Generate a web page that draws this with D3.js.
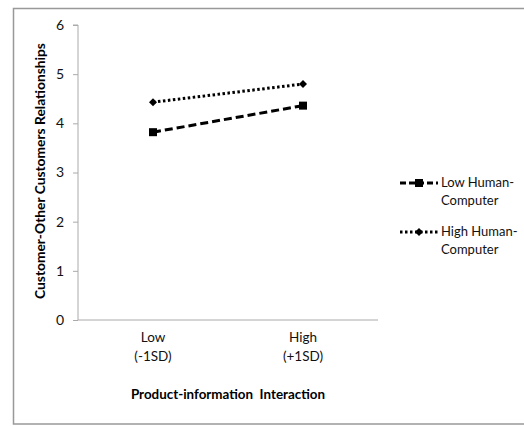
<!DOCTYPE html>
<html><head><meta charset="utf-8">
<script src="https://cdn.jsdelivr.net/npm/d3@7"></script>
<style>body{margin:0;background:#fff}svg{display:block}</style>
</head><body>
<script>
const categories = ["Low\n(-1SD)", "High\n(+1SD)"];
const lowHC = [3.82, 4.36];
const highHC = [4.43, 4.80];
const seriesNames = ["Low Human-\nComputer", "High Human-\nComputer"];
const yTicks = [0, 1, 2, 3, 4, 5, 6];

const W = 524, H = 427;
const svg = d3.select("body").append("svg").attr("width", W).attr("height", H);
const font = "Lato, 'Open Sans', sans-serif";

svg.append("rect").attr("x", 13.5).attr("y", 8.5).attr("width", 522).attr("height", 415.5)
  .attr("fill", "none").attr("stroke", "#999").attr("stroke-width", 1.5);

const x = d3.scaleBand().domain(categories).range([78, 378]);
const y = d3.scaleLinear().domain([0, 6]).range([320, 25]);

// y axis
const ya = svg.append("g").attr("transform", "translate(78,0)")
  .call(d3.axisLeft(y).tickValues(yTicks).tickFormat(d3.format("d")).tickSize(5).tickPadding(9));
ya.select(".domain").attr("stroke", "#aaa").attr("d", `M-5,${y(6)}H0V${y(0)}`);
ya.selectAll(".tick line").attr("stroke", "#aaa");
ya.selectAll("text").attr("font-family", font).attr("font-size", 14).attr("fill", "#111");

// x axis
const xa = svg.append("g").attr("transform", `translate(0,${y(0)})`)
  .call(d3.axisBottom(x).tickSize(0).tickPadding(12));
xa.select(".domain").attr("stroke", "#aaa").attr("d", `M78,0H378`);
xa.selectAll(".tick text").each(function(d) {
  const t = d3.select(this).text("");
  d.split("\n").forEach((s, i) => t.append("tspan").attr("x", 0).attr("dy", i ? 19 : 10).text(s));
}).attr("font-family", font).attr("font-size", 13.5).attr("fill", "#111");

// titles
svg.append("text").attr("x", 228).attr("y", 399).attr("text-anchor", "middle")
  .attr("font-family", font).attr("font-size", 13.4).attr("font-weight", "bold")
  .style("white-space", "pre")
  .text("Product-information  Interaction");
svg.append("text").attr("transform", "translate(45,171) rotate(-90)").attr("text-anchor", "middle")
  .attr("font-family", font).attr("font-size", 13.8).attr("font-weight", "bold")
  .text("Customer-Other Customers Relationships");

const cx = d => x(d) + x.bandwidth() / 2;
const series = [
  {vals: lowHC, dash: "8,4", marker: "square"},
  {vals: highHC, dash: "2.5,2.5", marker: "diamond"}
];
series.forEach(s => {
  const pts = categories.map((c, i) => [cx(c), y(s.vals[i])]);
  svg.append("path").attr("d", d3.line()(pts)).attr("fill", "none").attr("stroke", "#000")
    .attr("stroke-width", 3).attr("stroke-dasharray", s.dash);
  pts.forEach(p => {
    if (s.marker === "square") svg.append("rect").attr("x", p[0] - 4).attr("y", p[1] - 4).attr("width", 8).attr("height", 8);
    else svg.append("path").attr("transform", `translate(${p[0]},${p[1]})`).attr("d", "M0,-4L4,0L0,4L-4,0Z");
  });
});

// legend
seriesNames.forEach((n, i) => {
  const ly = 183 + i * 49, s = series[i];
  svg.append("line").attr("x1", 400).attr("x2", 438).attr("y1", ly).attr("y2", ly)
    .attr("stroke", "#000").attr("stroke-width", 3).attr("stroke-dasharray", i ? "2.5,2.5" : "6,3");
  if (s.marker === "square") svg.append("rect").attr("x", 415).attr("y", ly - 4).attr("width", 8).attr("height", 8);
  else svg.append("path").attr("transform", `translate(419,${ly})`).attr("d", "M0,-4L4,0L0,4L-4,0Z");
  const t = svg.append("text").attr("x", 441).attr("y", ly + 4).attr("font-family", font).attr("font-size", 13).attr("fill", "#111");
  n.split("\n").forEach((l, j) => t.append("tspan").attr("x", 441).attr("dy", j ? 18 : 0).text(l));
});
</script>
</body></html>
